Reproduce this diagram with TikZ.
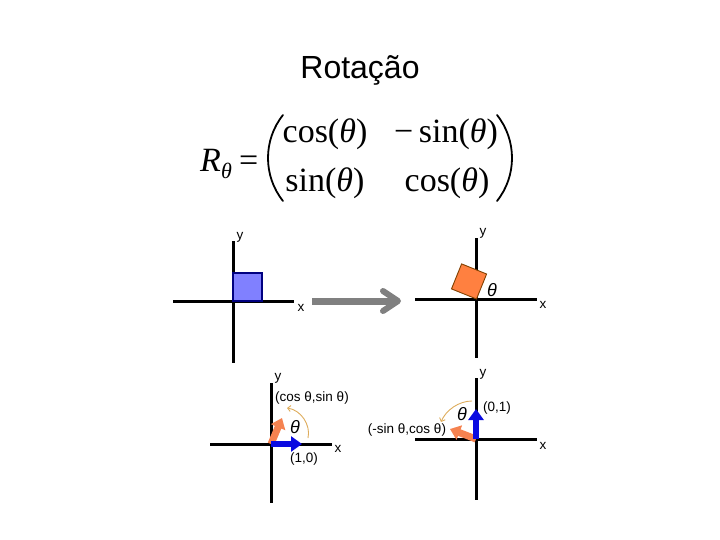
\documentclass[tikz,border=0pt]{standalone}
\usepackage{fontspec}
\setmainfont{Liberation Sans}
\newfontfamily\timesfont{Liberation Serif}
\usepackage{tikz}
\usetikzlibrary{arrows.meta}

\definecolor{sqblue}{RGB}{128,128,255}
\definecolor{sqnavy}{RGB}{0,0,128}
\definecolor{sqorange}{RGB}{255,128,64}
\definecolor{sqbrown}{RGB}{128,64,0}
\definecolor{vecb}{RGB}{10,10,225}
\definecolor{veco}{RGB}{245,130,80}
\definecolor{swingtan}{RGB}{222,172,92}
\definecolor{arrowgray}{RGB}{128,128,128}

\begin{document}
\begin{tikzpicture}[
    x=1pt, y=-1pt,
    % Styles
    axis/.style={
        line width=3pt,
        black
    },
    axlabel/.style={
        inner sep=0pt,
        font=\fontsize{13.5}{13.5}\selectfont
    },
    anglabel/.style={
        inner sep=0pt,
        font=\fontsize{18}{18}\selectfont\itshape
    },
    mtx/.style={
        inner sep=0pt,
        anchor=base,
        font=\timesfont\fontsize{34}{34}\selectfont
    },
    paren/.style={
        line width=1.8pt,
        line cap=round
    },
    vecblue/.style={
        vecb,
        line width=6pt,
        -{Triangle[length=11pt, width=15pt]}
    },
    vecorange/.style={
        veco,
        line width=7pt,
        -{Triangle[length=10pt, width=15pt]}
    },
    swing/.style={
        swingtan,
        line width=0.9pt,
        -{Straight Barb[length=3pt, width=6pt]}
    }
]
\useasboundingbox (0,0) rectangle (720,540);

% Title
\node[anchor=base, inner sep=0pt, font=\fontsize{32}{32}\selectfont] (title) at (360,79) {Rotação};

% Rotation matrix
\node[mtx, anchor=base west] (rname) at (200,172) {\textit{R}};
\node[inner sep=0pt, anchor=base west, font=\timesfont\fontsize{22}{22}\selectfont] (rsub) at (221,179) {\textit{θ}};
\node[mtx, anchor=base west] (eq) at (239,172) {=};
\node[mtx] (m11) at (325,143) {cos(\textit{θ})};
\node[mtx] (m12) at (446,143) {−\,sin(\textit{θ})};
\node[mtx] (m21) at (325,192) {sin(\textit{θ})};
\node[mtx] (m22) at (447,192) {cos(\textit{θ})};
\draw[paren] (283,115) .. controls (263,140) and (263,176) .. (283,201);
\draw[paren] (497,115) .. controls (517,140) and (517,176) .. (497,201);

% Top left: square on the axes
\coordinate (o1) at (233,301);
\draw[axis] (173,301) -- (294,301);
\draw[axis] (233,241) -- (233,363);
\draw[fill=sqblue, draw=sqnavy, line width=1.2pt] (o1) rectangle (262,273);
\node[axlabel] (y1) at (240,237) {y};
\node[axlabel] (x1) at (301,308) {x};

% Transformation arrow
\coordinate (ga) at (312,301);
\coordinate (gb) at (398,301);
\draw[arrowgray, line width=7pt] (ga) -- (gb);
\draw[arrowgray, line width=6pt, line cap=round, line join=round] (383,291) -- (gb) -- (383,311);

% Top right: rotated square
\coordinate (o2) at (476.5,299);
\draw[axis] (415,299) -- (537,299);
\draw[axis] (476.5,238) -- (476.5,358);
\draw[fill=sqorange, draw=sqbrown, line width=0.9pt]
    (o2) -- (486.6,274) -- (461.6,263.9) -- (451.5,288.9) -- cycle;
\node[anglabel] (th2) at (492,290) {θ};
\node[axlabel] (y2) at (483,233) {y};
\node[axlabel] (x2) at (543,305) {x};

% Bottom left: image of (1,0)
\coordinate (o3) at (271,444);
\coordinate (t3o) at (282,418);
\coordinate (t3b) at (302,444);
\draw[axis] (210,444) -- (332,444);
\draw[axis] (271,383) -- (271,503);
\draw[vecorange] (o3) -- (t3o);
\draw[vecblue] (o3) -- (t3b);
\coordinate (s3a) at (308,438);
\coordinate (s3b) at (287,408);
\draw[swing] (s3a) .. controls (311,425) and (301,410) .. (s3b);
\node[anglabel] (th3) at (295,427) {θ};
\node[axlabel] (p3) at (312,398) {(cos θ,sin θ)};
\node[axlabel] (q3) at (304,459) {(1,0)};
\node[axlabel] (y3) at (278,378) {y};
\node[axlabel] (x3) at (338,449) {x};

% Bottom right: image of (0,1)
\coordinate (o4) at (476,439);
\coordinate (t4o) at (450,429);
\coordinate (t4b) at (476,409);
\draw[axis] (415,439) -- (537,439);
\draw[axis] (476,378) -- (476,500);
\draw[vecorange] (o4) -- (t4o);
\draw[vecblue] (o4) -- (t4b);
\coordinate (s4a) at (472,401);
\coordinate (s4b) at (441,422);
\draw[swing] (s4a) .. controls (459,401) and (446,410) .. (s4b);
\node[anglabel] (th4) at (462,414) {θ};
\node[axlabel] (p4) at (407,430) {(-sin θ,cos θ)};
\node[axlabel] (q4) at (497,408) {(0,1)};
\node[axlabel] (y4) at (483,374) {y};
\node[axlabel] (x4) at (543,446) {x};

\end{tikzpicture}
\end{document}
